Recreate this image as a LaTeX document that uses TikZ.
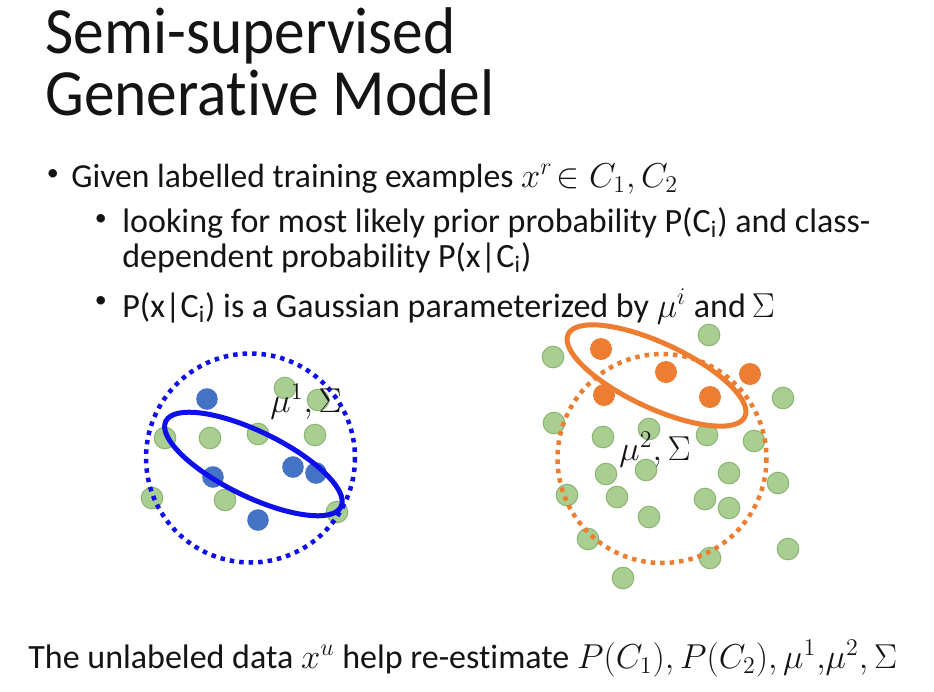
\documentclass[tikz,border=0pt]{standalone}
\usepackage{fontspec}
\setmainfont{Carlito}[Ligatures=NoCommon]
\newfontfamily\titlefont{Carlito}[FakeStretch=0.93, Ligatures=NoCommon]
\usepackage{tikz}
\usetikzlibrary{positioning}
\definecolor{mytext}{RGB}{20,20,20}
\definecolor{myblue}{RGB}{15,15,235}
\definecolor{dotblue}{RGB}{68,114,196}
\definecolor{myorange}{RGB}{237,125,49}
\definecolor{dotgreen}{RGB}{169,206,145}
\definecolor{greenrim}{RGB}{140,180,115}
\tikzset{
  titletext/.style={anchor=base west, inner sep=0pt, color=mytext,
    font=\titlefont\fontsize{33pt}{40pt}\selectfont},
  bodytext/.style={anchor=base west, inner sep=0pt, color=mytext,
    font=\fontsize{16.8pt}{20pt}\selectfont},
  subtext/.style={anchor=base west, inner sep=0pt, color=mytext,
    font=\fontsize{17pt}{20pt}\selectfont},
  bulletmark/.style={anchor=base west, inner sep=0pt, color=mytext,
    font=\fontsize{12pt}{14pt}\selectfont},
  labeltext/.style={anchor=base west, inner sep=0pt, color=mytext,
    font=\fontsize{17pt}{20pt}\selectfont},
  greendot/.style={fill=dotgreen, draw=greenrim, line width=0.5pt},
  bluedot/.style={fill=dotblue},
  orangedot/.style={fill=myorange},
  dotring/.style={line width=2.25pt, dash pattern=on 2.25pt off 2.5pt},
  gauss/.style={line width=2.5pt}
}

\begin{document}
\begin{tikzpicture}[x=0.5pt, y=-0.5pt]
  % Page
  \fill[white] (0,0) rectangle (934,692);
  \useasboundingbox (0,0) rectangle (934,692);

  % Title
  \node[titletext] (title1) at (45,53) {Semi-supervised};
  \node[titletext] (title2) at (45,115) {Generative Model};

  % Bullets
  \node[bulletmark] (dot1) at (46.5,180) {\textbullet};
  \node[bodytext] (given) at (71,187) {Given labelled training examples $x^r\!\in C_1, C_2$};
  \node[bulletmark] (dot2) at (94.5,225) {\textbullet};
  \node[subtext] (prior) at (122,232) {looking for most likely prior probability P(C\textsubscript{i}) and class-};
  \node[subtext] (prior2) at (122,267) {dependent probability P(x|C\textsubscript{i})};
  \node[bulletmark] (dot3) at (94.5,307) {\textbullet};
  \node[subtext] (gaussian) at (122,317) {P(x|C\textsubscript{i}) is a Gaussian parameterized by $\mu^i$ and\hspace{3pt}$\Sigma$};

  % Class 1
  \foreach \p in {(165,438),(210,438),(258,434),(315,435),(225,500),(152,498),(337,512),(285,388),(318,400)}
    \draw[greendot] \p circle (10.8);
  \foreach \p in {(207,399),(213,477),(293,467),(316,473),(258,520)}
    \fill[bluedot] \p circle (10.8);
  \draw[myblue, dotring] (250.5,458) circle (104.5);
  \draw[myblue, gauss, shift={(253.4,464)}, rotate=-26] (0,0) ellipse [x radius=97.5, y radius=32.5];
  \node[labeltext] (mu1) at (270,412) {$\mu^1, \Sigma$};

  % Class 2
  \foreach \p in {(709,335),(553,357),(783,398),(554,423),(603,437),(649,429),(707,435),(754,441),
                  (606,474),(646,470),(729,473),(567,495),(617,497),(705,499),(729,508),(778,483),
                  (649,517),(588,539),(710,558),(788,549),(623,578)}
    \draw[greendot] \p circle (10.8);
  \foreach \p in {(601,349),(666,372),(604,395),(710,397),(750,374)}
    \fill[orangedot] \p circle (11);
  \draw[myorange, dotring] (662,458.5) circle (104.5);
  \draw[myorange, gauss, shift={(656.5,375.5)}, rotate=-25] (0,0) ellipse [x radius=97.5, y radius=32.5];
  \node[labeltext] (mu2) at (619,460) {$\mu^2, \Sigma$};

  % Bottom line
  \node[labeltext] (unlabeled) at (28,668) {The unlabeled data $x^u$ help re-estimate $P(C_1), P(C_2), \mu^1{,}\mu^2, \Sigma$};
\end{tikzpicture}
\end{document}
